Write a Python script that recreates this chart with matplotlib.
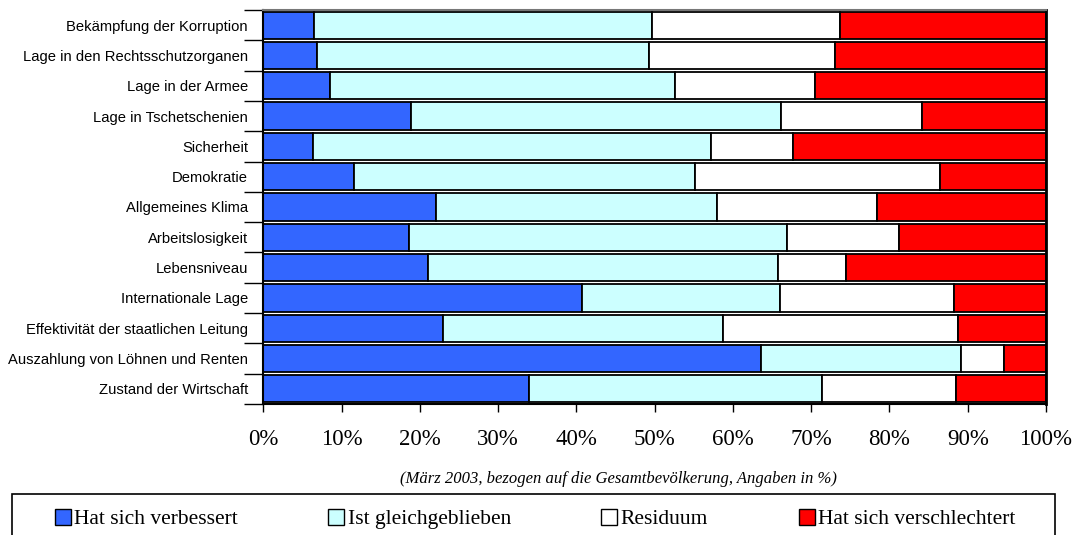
import matplotlib
matplotlib.use("Agg")
import matplotlib.pyplot as plt
import numpy as np
from matplotlib.patches import Patch, Rectangle

categories = [
    "Bekämpfung der Korruption",
    "Lage in den Rechtsschutzorganen",
    "Lage in der Armee",
    "Lage in Tschetschenien",
    "Sicherheit",
    "Demokratie",
    "Allgemeines Klima",
    "Arbeitslosigkeit",
    "Lebensniveau",
    "Internationale Lage",
    "Effektivität der staatlichen Leitung",
    "Auszahlung von Löhnen und Renten",
    "Zustand der Wirtschaft",
]
verbessert = [6.5, 6.8, 8.5, 18.9, 6.4, 11.6, 22.0, 18.6, 21.0, 40.7, 22.9, 63.6, 34.0]
gleich = [43.2, 42.5, 44.1, 47.3, 50.8, 43.5, 35.9, 48.3, 44.8, 25.3, 35.8, 25.5, 37.4]
residuum = [24.0, 23.7, 17.9, 18.0, 10.5, 31.4, 20.5, 14.3, 8.7, 22.3, 30.0, 5.5, 17.1]
verschlechtert = [round(100 - a - b - c, 1) for a, b, c in zip(verbessert, gleich, residuum)]

series = [
    ("Hat sich verbessert", verbessert, "#3366FF"),
    ("Ist gleichgeblieben", gleich, "#CCFFFF"),
    ("Residuum", residuum, "#FFFFFF"),
    ("Hat sich verschlechtert", verschlechtert, "#FF0000"),
]
xticklabels = ["0%", "10%", "20%", "30%", "40%", "50%", "60%", "70%", "80%", "90%", "100%"]
caption = "(März 2003, bezogen auf die Gesamtbevölkerung, Angaben in %)"

W, H = 1076, 535
fig = plt.figure(figsize=(W / 100, H / 100), dpi=100)
ax = fig.add_axes([263.4 / W, 1 - 404 / H, (1046 - 263.4) / W, (404 - 10) / H])

y = np.arange(len(categories))
left = np.zeros(len(categories))
for name, vals, col in series:
    vals = np.array(vals)
    ax.barh(y, vals, left=left, height=0.9, color=col, edgecolor="black",
            linewidth=1.3, label=name)
    left += vals

ax.set_xlim(0, 100)
ax.set_ylim(len(categories) - 0.5, -0.5)
ax.set_xticks(np.arange(0, 101, 10))
ax.set_xticklabels(xticklabels, family="Liberation Serif", fontsize=16.5)
ax.tick_params(axis="x", which="major", length=6, width=1, pad=12, direction="out")
ax.set_yticks(y)
ax.set_yticklabels(categories, family="Liberation Sans", fontsize=10.6)
ax.tick_params(axis="y", which="major", length=0, pad=11)
ax.set_yticks(np.arange(-0.5, len(categories), 1), minor=True)
ax.tick_params(axis="y", which="minor", length=14, width=1, direction="out")
for s in ["left", "bottom"]:
    ax.spines[s].set_linewidth(1.5)
ax.spines["right"].set_linewidth(2)
ax.spines["top"].set_color("#777777")
ax.spines["top"].set_linewidth(1.5)

fig.text(618 / W, 1 - 479 / H, caption, ha="center", va="center",
         family="Liberation Serif", style="italic", fontsize=12)

# legend frame (bottom edge runs off the figure, as in the reference)
fig.patches.append(Rectangle((12 / W, -10 / H), (1055 - 12) / W, (H - 494 + 10) / H,
                             transform=fig.transFigure, facecolor="none",
                             edgecolor="black", linewidth=1.2))
handles = [Patch(facecolor=c, edgecolor="black", linewidth=1) for _, _, c in series]
labels = [n for n, _, _ in series]
leg = fig.legend(handles, labels, loc="center",
                 bbox_to_anchor=(535 / W, 1 - 519 / H),
                 ncol=4, frameon=False, handlelength=0.75, handleheight=0.75,
                 handletextpad=0.15, columnspacing=4.2, borderpad=0,
                 prop={"family": "Liberation Serif", "size": 15.5})

fig.savefig("out.png", dpi=100)
